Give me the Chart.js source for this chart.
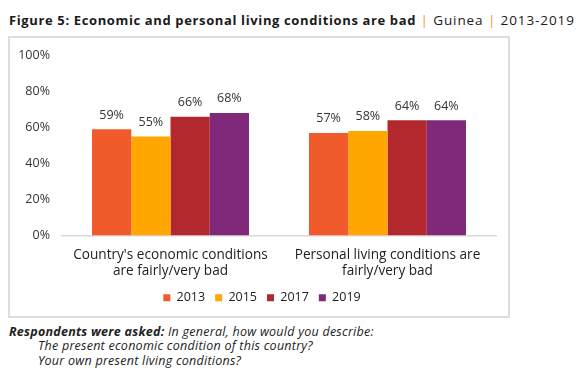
<!DOCTYPE html>
<html>
<head>
<meta charset="utf-8">
<script src="https://cdn.jsdelivr.net/npm/chart.js@4"></script>
<style>
  html, body { margin: 0; padding: 0; background: #fff; }
  body { width: 584px; height: 373px; position: relative; overflow: hidden; font-family: "Open Sans", sans-serif; color: #1a1a1a; }
  #title { position: absolute; left: 9px; top: 11px; font-size: 13px; white-space: nowrap; }
  #title b { font-weight: 700; letter-spacing: 0.63px; }
  #title .reg { font-size: 13.5px; letter-spacing: 0.9px; }
  #title .sep { color: #F7941D; }
  #box { position: absolute; left: 8px; top: 36px; width: 502px; height: 282px; box-sizing: border-box; border: 2px solid #dedede; }
  #wrap { position: absolute; left: 8px; top: 36px; width: 502px; height: 282px; }
  #foot { position: absolute; left: 9px; top: 325px; font-size: 12.5px; font-style: italic; line-height: 14.3px; color: #222; letter-spacing: 0.25px; white-space: nowrap; }
  #foot .ind { padding-left: 29px; }
</style>
</head>
<body>
<div id="title"><b>Figure 5: Economic and personal living conditions are bad</b><span class="reg"> <span class="sep">|</span> Guinea <span class="sep">|</span> 2013-2019</span></div>
<div id="box"></div>
<div id="wrap"><canvas id="c"></canvas></div>
<div id="foot">
  <div><b>Respondents were asked:</b> In general, how would you describe:</div>
  <div class="ind">The present economic condition of this country?</div>
  <div class="ind">Your own present living conditions?</div>
</div>
<script>
const categories = [
  ["Country's economic conditions", "are fairly/very bad"],
  ["Personal living conditions are", "fairly/very bad"]
];
const seriesNames = ["2013", "2015", "2017", "2019"];
const values2013 = [59, 57];
const values2015 = [55, 58];
const values2017 = [66, 64];
const values2019 = [68, 64];
const yTicks = [0, 20, 40, 60, 80, 100];
const colors = ["#F15A2B", "#FFA700", "#B2282E", "#80287A"];

const FONT = "'Open Sans', sans-serif";

const labelPlugin = {
  id: 'barLabels',
  afterLayout(chart) {
    if (chart.legend) { chart.legend.left += 10; chart.legend.right += 10; }
  },
  afterDatasetsDraw(chart) {
    const ctx = chart.ctx;
    ctx.save();
    ctx.font = "12.5px " + FONT;
    ctx.fillStyle = "#333333";
    ctx.textAlign = "center";
    ctx.textBaseline = "bottom";
    chart.data.datasets.forEach((ds, i) => {
      const meta = chart.getDatasetMeta(i);
      meta.data.forEach((bar, j) => {
        ctx.fillText(ds.data[j] + "%", bar.x, bar.y - 8);
      });
    });
    ctx.restore();
  }
};

new Chart(document.getElementById('c'), {
  type: 'bar',
  data: {
    labels: categories,
    datasets: [values2013, values2015, values2017, values2019].map((d, i) => ({
      label: seriesNames[i],
      data: d,
      backgroundColor: colors[i],
      borderWidth: 0,
      barPercentage: 1.0,
      categoryPercentage: 0.7235
    }))
  },
  options: {
    responsive: true,
    maintainAspectRatio: false,
    animation: false,
    events: [],
    layout: { padding: { top: 16, right: 14, bottom: 4, left: 0 } },
    plugins: {
      tooltip: { enabled: false },
      legend: {
        position: 'bottom',
        labels: {
          boxWidth: 7, boxHeight: 7, padding: 10,
          color: "#222222",
          font: { family: FONT, size: 12.5 }
        }
      }
    },
    scales: {
      x: {
        grid: { display: false, drawTicks: false },
        border: { display: true, color: "#d9d9d9", width: 1.5 },
        ticks: { color: "#222222", padding: 12, font: { family: FONT, size: 13.6, lineHeight: 1.15 }, maxRotation: 0, autoSkip: false },
        afterFit: (s) => { s.height = 46; }
      },
      y: {
        min: 0, max: 100,
        afterBuildTicks: (s) => { s.ticks = yTicks.map(v => ({ value: v })); },
        grid: { display: false, drawTicks: false },
        border: { display: false },
        ticks: { color: "#333333", padding: 12, font: { family: FONT, size: 12.5 }, callback: (v) => v + "%" },
        afterFit: (s) => { s.width = 54; }
      }
    }
  },
  plugins: [labelPlugin]
});
</script>
</body>
</html>
